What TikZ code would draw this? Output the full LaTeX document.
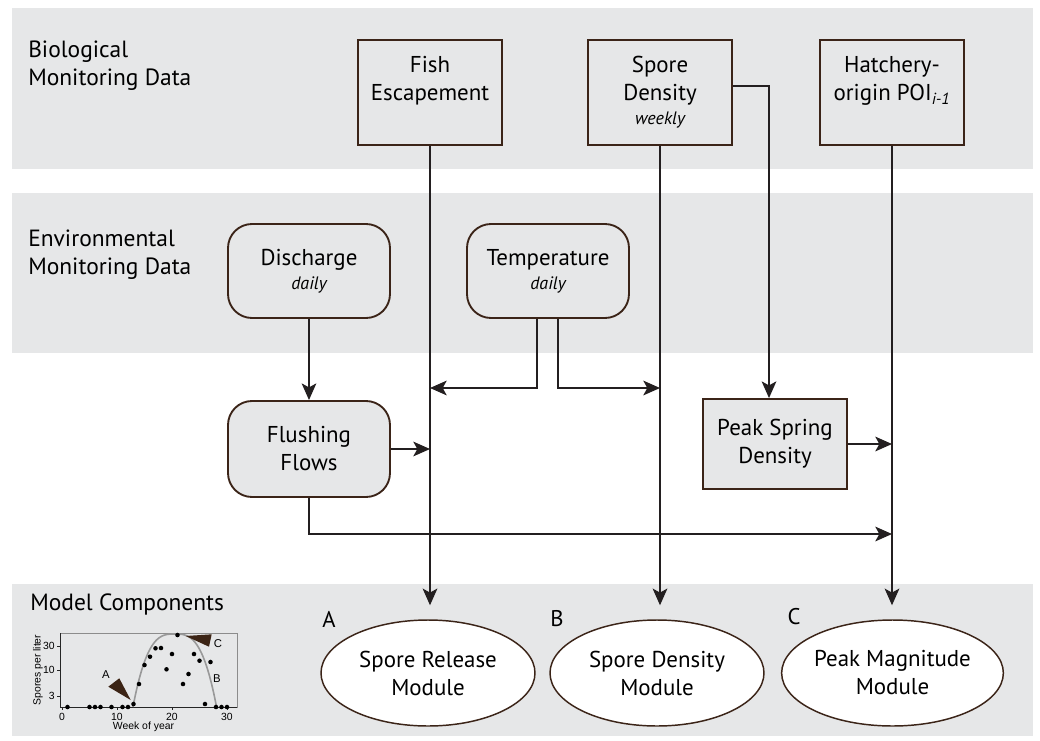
\documentclass[tikz,border=0pt]{standalone}
\usepackage{fontspec}
\setmainfont{PT Sans}
\newfontfamily\chartfont{Liberation Sans}
\usetikzlibrary{arrows.meta,shapes.geometric,calc}
\definecolor{band}{HTML}{E6E7E8}
\definecolor{edge}{HTML}{3B2418}
\definecolor{ink}{HTML}{231F20}
\definecolor{tri}{HTML}{3C2415}
\begin{document}
\begin{tikzpicture}[x=0.75pt,y=-0.75pt,
  boxfont/.style={font=\fontsize{17.2}{21}\selectfont},
  databox/.style={boxfont,draw=edge,line width=1.4pt,fill=band,minimum width=108pt,minimum height=78.75pt,align=center,inner sep=0pt},
  envbox/.style={boxfont,draw=edge,line width=1.4pt,fill=band,rounded corners=18pt,minimum width=121.5pt,minimum height=70.5pt,align=center,inner sep=0pt},
  module/.style={boxfont,ellipse,draw=edge,line width=1.1pt,fill=white,minimum width=160.5pt,minimum height=79.5pt,inner sep=0pt,align=center},
  rowlabel/.style={anchor=north west,align=left,inner sep=0pt,font=\fontsize{17.6}{21}\selectfont},
  letter/.style={inner sep=0pt,font=\fontsize{17}{20}\selectfont},
  arr/.style={-{Stealth[length=12.5pt,width=11pt,inset=3pt]},line width=1.4pt,draw=ink},
  chartlbl/.style={inner sep=0pt,font=\chartfont\fontsize{7.8}{9}\selectfont},
  dot/.style={fill=black}
]
\useasboundingbox (0,0) rectangle (1040,740);
% bands
\fill[band] (12,8) rectangle (1033,169);
\fill[band] (12,193) rectangle (1033,353);
\fill[band] (12,584) rectangle (1033,736);
% row labels
\node[rowlabel] (lbio) at (28,41) {Biological\\Monitoring Data};
\node[rowlabel] (lenv) at (28,230) {Environmental\\Monitoring Data};
\node[rowlabel] (lmod) at (30,594) {Model Components};
% data boxes
\node[databox] (fish) at (430,92.5) {Fish\\Escapement\\[-3pt]{\fontsize{13.5}{15}\selectfont\itshape\phantom{weekly}}};
\node[databox] (spore) at (660,92.5) {Spore\\Density\\[-3pt]{\fontsize{13.5}{15}\selectfont\itshape weekly}};
\node[databox] (hatch) at (892,92.5) {Hatchery-\\origin POI\textsubscript{\itshape i-1}\\[-3pt]{\fontsize{13.5}{15}\selectfont\itshape\phantom{weekly}}};
% environmental boxes
\node[envbox] (dis) at (309,271) {Discharge\\[-3pt]{\fontsize{13.5}{15}\selectfont\itshape daily}};
\node[envbox] (temp) at (548,271) {Temperature\\[-3pt]{\fontsize{13.5}{15}\selectfont\itshape daily}};
\node[envbox,minimum height=72pt] (flush) at (309,449) {Flushing\\Flows};
\node[databox,minimum height=67.5pt] (peak) at (775,444) {Peak Spring\\Density};
% modules
\node[module] (relmod) at (428,673) {Spore Release\\Module};
\node[module] (denmod) at (657,673) {Spore Density\\Module};
\node[module] (magmod) at (892.5,673) {Peak Magnitude\\Module};
\node[letter] (la) at (329,619.5) {A};
\node[letter] (lb) at (557,619) {B};
\node[letter] (lc) at (794,617) {C};
% connectors
\draw[arr,shorten >=10.5pt] (fish.south) -- (fish.south |- relmod.north);
\draw[arr,shorten >=10.5pt] (spore.south) -- (spore.south |- denmod.north);
\draw[arr,shorten >=10.5pt] (hatch.south) -- (hatch.south |- magmod.north);
\coordinate (spr) at (769,86);
\draw[arr] (spore.east |- spr) -- (spr) -- (peak.north -| spr);
\draw[arr] (dis.south) -- (flush.north);
\draw[arr] (flush.east) -- (flush.east -| fish.south);
\coordinate (lowrow) at (0,534);
\draw[arr] (flush.south) |- (hatch.south |- lowrow);
\coordinate (tl) at (537,388);
\coordinate (tr) at (558,388);
\draw[arr] (temp.south -| tl) -- (tl) -- (fish.south |- tl);
\draw[arr] (temp.south -| tr) -- (tr) -- (spore.south |- tr);
\draw[arr] (peak.east) -- (peak.east -| hatch.south);
% inset chart
\draw[black!45,line width=0.6pt] (60,633) rectangle (237,707);
\draw[black!85,line width=0.7pt] (60,633) -- (60,707) -- (237,707);
\foreach \w in {0,10,20,30} {
  \draw[black!85,line width=0.6pt] ({62+5.5*\w},707) -- ({62+5.5*\w},710);
  \node[chartlbl] at ({62+5.5*\w},716.5) {\w};
}
\foreach \yy/\t in {646/30,670/10,696/3} {
  \draw[black!85,line width=0.6pt] (60,\yy) -- (57,\yy);
  \node[chartlbl,anchor=east] at (55,\yy) {\t};
}
\node[chartlbl,rotate=90] (ylab) at (38,670) {Spores per liter};
\node[chartlbl] (xlab) at (143.5,727) {Week of year};
\draw[black!40,line width=1.2pt] plot[domain=12.9:28.1,samples=60] ({62+5.5*\x},{634+73*abs(((\x-20.5)/7.6)*((\x-20.5)/7.6)*((\x-20.5)/7.6))});
\foreach \w/\yy in {1/707,5/707,6/707,7/707,9/707,11/707,12/707,28/707,29/707,30/707,
  13/704,14/684,15/665,16/656.7,17/648.3,18/648,19/669.3,20/654,21/635,22/684,23/674,24/654,25/660.7,26/704,27/662} {
  \fill[dot] ({62+5.5*\w},\yy) circle (1.7pt);
}
\fill[tri] (108.3,686.7) -- (119.3,678.3) -- (130.7,700) -- cycle;
\fill[tri] (185.7,636) -- (211.7,634.3) -- (209,646.7) -- cycle;
\node[chartlbl,font=\chartfont\fontsize{8.5}{9}\selectfont] (ca) at (106,675) {A};
\node[chartlbl,font=\chartfont\fontsize{8.5}{9}\selectfont] (cb) at (217,679) {B};
\node[chartlbl,font=\chartfont\fontsize{8.5}{9}\selectfont] (cc) at (218,644) {C};
\end{tikzpicture}
\end{document}
